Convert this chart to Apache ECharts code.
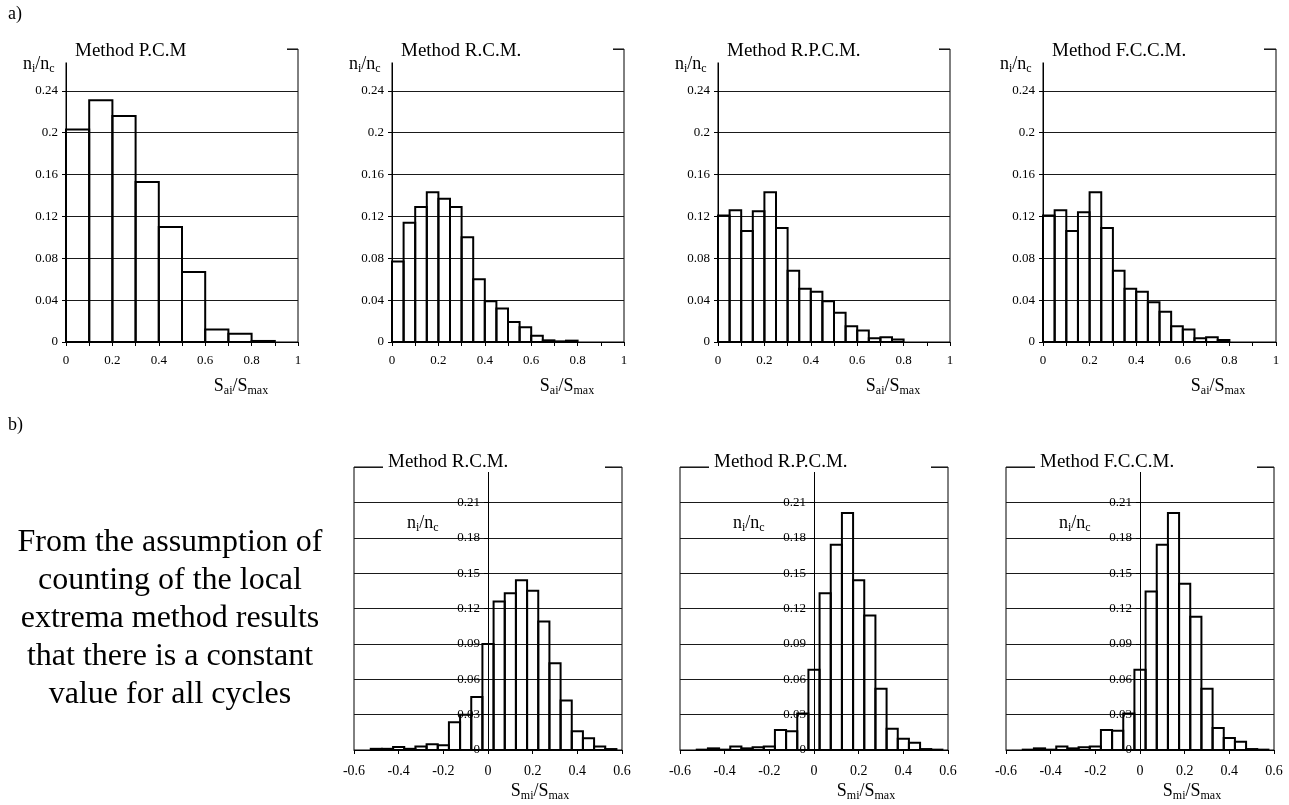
<!DOCTYPE html>
<html>
<head>
<meta charset="UTF-8">
<title>Histograms</title>
<script src="https://cdn.jsdelivr.net/npm/echarts@6/dist/echarts.min.js"></script>
<style>
  html, body { margin: 0; padding: 0; background: #fff; }
  #main { width: 1289px; height: 805px; }
</style>
</head>
<body>
<div id="main"></div>
<script>
  // bin lower edges
  var sAiBins10 = [0, 0.1, 0.2, 0.3, 0.4, 0.5, 0.6, 0.7, 0.8]
  var sAiBins05 = [0, 0.05, 0.1, 0.15, 0.2, 0.25, 0.3, 0.35, 0.4, 0.45, 0.5, 0.55, 0.6, 0.65, 0.7, 0.75]
  var sMiBins = [-0.525, -0.475, -0.425, -0.375, -0.325, -0.275, -0.225, -0.175, -0.125, -0.075, -0.025,
    0.025, 0.075, 0.125, 0.175, 0.225, 0.275, 0.325, 0.375, 0.425, 0.475, 0.525]

  // n_i/n_c, amplitude S_ai/S_max
  var pcmAmp = [0.203, 0.231, 0.216, 0.153, 0.110, 0.067, 0.012, 0.008, 0.001]
  var rcmAmp = [0.077, 0.114, 0.129, 0.143, 0.137, 0.129, 0.100, 0.060, 0.039, 0.032, 0.019, 0.014, 0.006, 0.0016, 0.0006, 0.0013]
  var rpcmAmp = [0.121, 0.126, 0.106, 0.125, 0.143, 0.109, 0.068, 0.051, 0.048, 0.039, 0.028, 0.015, 0.011, 0.0035, 0.0045, 0.0025]
  var fccmAmp = [0.121, 0.126, 0.106, 0.124, 0.143, 0.109, 0.068, 0.051, 0.048, 0.038, 0.029, 0.015, 0.012, 0.0035, 0.0045, 0.0019]

  // n_i/n_c, mean S_mi/S_max
  var rcmMean = [0.001, 0.001, 0.0025, 0.001, 0.003, 0.0048, 0.004, 0.0235, 0.030, 0.045, 0.090,
    0.126, 0.133, 0.144, 0.135, 0.109, 0.0735, 0.042, 0.016, 0.010, 0.003, 0.0008]
  var rpcmMean = [0.0003, 0.0014, 0.0003, 0.003, 0.0014, 0.0023, 0.003, 0.017, 0.016, 0.031, 0.068,
    0.133, 0.174, 0.201, 0.144, 0.114, 0.052, 0.018, 0.0096, 0.0062, 0.0008, 0.0003]
  var fccmMean = [0.0003, 0.0014, 0.0003, 0.003, 0.0014, 0.0023, 0.003, 0.017, 0.0164, 0.031, 0.068,
    0.1345, 0.174, 0.201, 0.141, 0.113, 0.052, 0.0187, 0.0102, 0.0071, 0.0008, 0.0003]

  var noteLines = ['From the assumption of', 'counting of the local', 'extrema method results',
    'that there is a constant', 'value for all cycles']

  var serif = "'Liberation Serif', 'Times New Roman', serif"

  var topRow = [
    { name: 'Method P.C.M', left: 66, width: 232, bins: sAiBins10, bw: 0.1, data: pcmAmp },
    { name: 'Method R.C.M.', left: 392, width: 232, bins: sAiBins05, bw: 0.05, data: rcmAmp },
    { name: 'Method R.P.C.M.', left: 718, width: 232, bins: sAiBins05, bw: 0.05, data: rpcmAmp },
    { name: 'Method F.C.C.M.', left: 1043, width: 233, bins: sAiBins05, bw: 0.05, data: fccmAmp }
  ]
  var bottomRow = [
    { name: 'Method R.C.M.', left: 354, width: 268, bins: sMiBins, bw: 0.05, data: rcmMean },
    { name: 'Method R.P.C.M.', left: 680, width: 268, bins: sMiBins, bw: 0.05, data: rpcmMean },
    { name: 'Method F.C.C.M.', left: 1006, width: 268, bins: sMiBins, bw: 0.05, data: fccmMean }
  ]

  var mChart = echarts.init(document.getElementById('main'))

  function histItem(bw) {
    return function (params, api) {
      var p0 = api.coord([api.value(0), 0])
      var p1 = api.coord([api.value(0) + bw, api.value(1)])
      return {
        type: 'rect',
        shape: { x: p0[0], y: p1[1], width: p1[0] - p0[0], height: p0[1] - p1[1] },
        style: { fill: 'none', stroke: '#000', lineWidth: 2 }
      }
    }
  }

  var lineStyle = { color: '#000', width: 1 }

  // rich text for subscripts
  var subRich = {
    m: { fontFamily: serif, fontSize: 18, fill: '#000', color: '#000' },
    s: { fontFamily: serif, fontSize: 12, fill: '#000', color: '#000', padding: [10, 0, 0, 0] }
  }
  function nameText(x, y, txt, align) {
    return {
      type: 'text', x: x, y: y, z: 100,
      style: { text: txt, rich: subRich, align: align, verticalAlign: 'middle', fill: '#000' }
    }
  }
  var nText = '{m|n}{s|i}{m|/n}{s|c}'

  var grids = [], xAxes = [], yAxes = [], series = [], titles = [], graphics = []

  function addPanel(p, isTop) {
    var i = grids.length
    grids.push({
      left: p.left, width: p.width,
      top: isTop ? 49 : 467, height: isTop ? 293 : 283,
      show: true, borderColor: '#000', borderWidth: 1, backgroundColor: 'transparent',
      outerBoundsMode: 'none'
    })
    xAxes.push({
      gridIndex: i, type: 'value',
      min: isTop ? 0 : -0.6, max: isTop ? 1 : 0.6, interval: 0.2,
      axisLine: { show: true, onZero: false, lineStyle: lineStyle },
      axisTick: { show: true, length: 4, lineStyle: lineStyle },
      minorTick: { show: isTop, splitNumber: 2, length: 4, lineStyle: lineStyle },
      splitLine: { show: false },
      axisLabel: { margin: isTop ? 12 : 14, fontSize: isTop ? 13 : 14, fontFamily: serif, color: '#000' }
    })
    yAxes.push({
      gridIndex: i, type: 'value',
      min: 0, max: isTop ? 0.28 : 0.24, interval: isTop ? 0.04 : 0.03,
      // bottom row: y axis sits at x = 0 (middle of -0.6..0.6)
      offset: isTop ? 0 : -p.width / 2,
      axisLine: { show: true, onZero: false, lineStyle: lineStyle },
      axisTick: { show: true, length: 4, lineStyle: lineStyle },
      splitLine: { show: true, lineStyle: { color: '#1a1a1a', width: 1 } },
      axisLabel: { showMaxLabel: false, margin: 8, fontSize: 13, fontFamily: serif, color: '#000' }
    })
    series.push({
      type: 'custom', xAxisIndex: i, yAxisIndex: i, silent: true, clip: false, z: 3,
      renderItem: histItem(p.bw),
      encode: { x: 0, y: 1 },
      data: p.bins.map(function (b, j) { return [b, p.data[j]] })
    })
    titles.push({
      left: isTop ? p.left - 6 : p.left + 29,
      top: isTop ? 38 : 449,
      padding: 0, z: 20,
      text: '{t|' + p.name + '}',
      textStyle: {
        fontWeight: 'normal',
        rich: {
          t: {
            width: isTop ? 212 : 217, lineHeight: 19,
            padding: isTop ? [9, 0, 2, 15] : [8, 0, 0, 5],
            backgroundColor: '#fff', fontFamily: serif, fontSize: 19, fontWeight: 'normal', color: '#000'
          }
        }
      }
    })
    if (isTop) {
      graphics.push(nameText(p.left - 43, 64, nText, 'left'))
      graphics.push(nameText(p.left + 175, 386, '{m|S}{s|ai}{m|/S}{s|max}', 'center'))
    } else {
      graphics.push(nameText(p.left + 53, 523, nText, 'left'))
      graphics.push(nameText(p.left + 186, 791, '{m|S}{s|mi}{m|/S}{s|max}', 'center'))
    }
  }

  topRow.forEach(function (p) { addPanel(p, true) })
  bottomRow.forEach(function (p) { addPanel(p, false) })

  graphics.push({ type: 'text', x: 8, y: 14, style: { text: 'a)', fontFamily: serif, fontSize: 18, fill: '#000', verticalAlign: 'middle' } })
  graphics.push({ type: 'text', x: 8, y: 425, style: { text: 'b)', fontFamily: serif, fontSize: 18, fill: '#000', verticalAlign: 'middle' } })
  graphics.push({
    type: 'text', x: 170, y: 524,
    style: {
      text: noteLines.join('\n'), fontFamily: serif, fontSize: 32, lineHeight: 38,
      fill: '#000', align: 'center', verticalAlign: 'top'
    }
  })

  var option = {
    animation: false,
    backgroundColor: '#fff',
    title: titles,
    grid: grids,
    xAxis: xAxes,
    yAxis: yAxes,
    series: series,
    graphic: { elements: graphics }
  }
  mChart.setOption(option)
</script>
</body>
</html>
